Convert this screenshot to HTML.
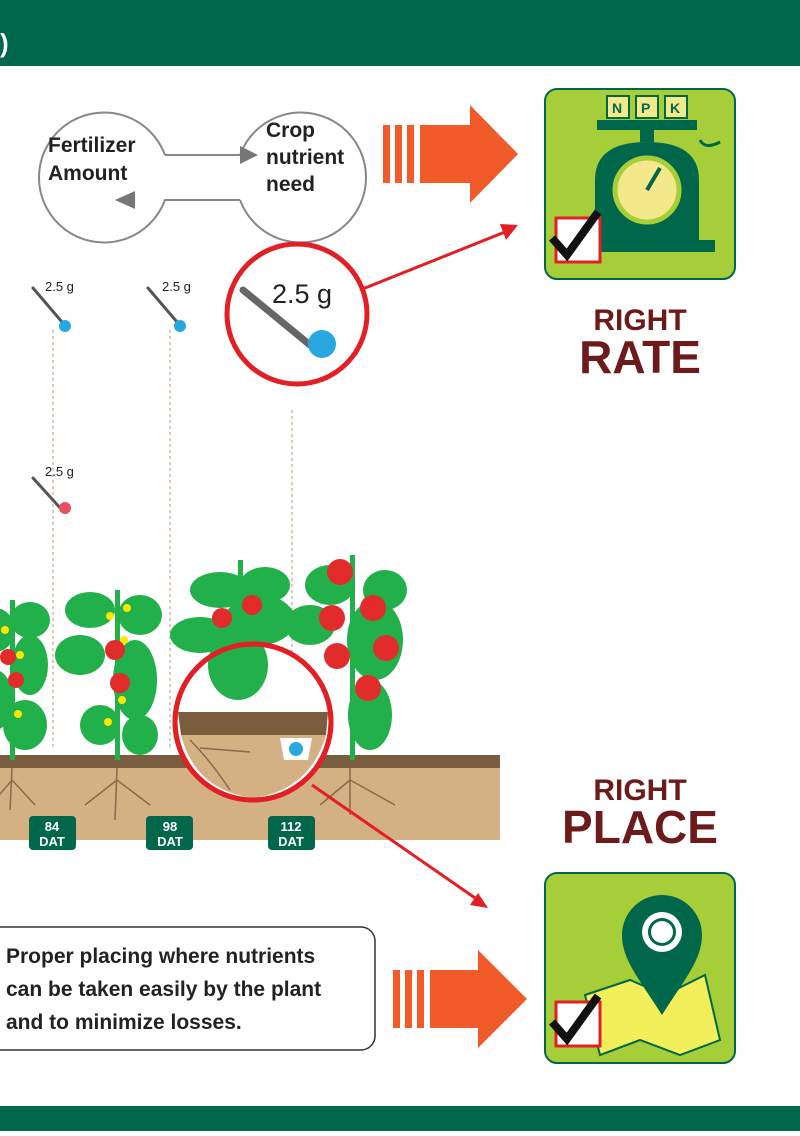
<!DOCTYPE html>
<html><head><style>
body{margin:0;width:800px;height:1131px;background:#fff;overflow:hidden;font-family:"Liberation Sans",sans-serif}
</style></head><body>
<svg width="800" height="1131" viewBox="0 0 800 1131" xmlns="http://www.w3.org/2000/svg" font-family="Liberation Sans, sans-serif">
<rect x="0" y="0" width="800" height="66" fill="#00674a"/>
<text x="0" y="52" fill="#fff" font-size="26" font-weight="bold">)</text>
<rect x="0" y="1106" width="800" height="25" fill="#00674a"/>
<!-- cycle -->
<path d="M165,155 A65,65 0 1,0 165,200 L240,200" fill="none" stroke="#888" stroke-width="2"/>
<path d="M240,155 A65,65 0 1,1 240,200" fill="none" stroke="#888" stroke-width="2"/>
<path d="M165,155 L240,155" stroke="#888" stroke-width="2"/>
<path d="M240,146 L258,155 L240,164Z" fill="#777"/>
<path d="M135,191 L115,200 L135,209Z" fill="#777"/>
<text x="48" y="152" font-size="21" font-weight="bold" fill="#222">Fertilizer</text>
<text x="48" y="180" font-size="21" font-weight="bold" fill="#222">Amount</text>
<text x="266" y="137" font-size="21" font-weight="bold" fill="#222">Crop</text>
<text x="266" y="164" font-size="21" font-weight="bold" fill="#222">nutrient</text>
<text x="266" y="191" font-size="21" font-weight="bold" fill="#222">need</text>
<!-- orange arrows -->
<g fill="#f15a29">
<rect x="383" y="125" width="7" height="58"/><rect x="395" y="125" width="7" height="58"/><rect x="407" y="125" width="7" height="58"/>
<path d="M420,125 L470,125 L470,105 L518,154 L470,203 L470,183 L420,183Z"/>
<rect x="393" y="970" width="7" height="58"/><rect x="405" y="970" width="7" height="58"/><rect x="417" y="970" width="7" height="58"/>
<path d="M430,970 L478,970 L478,950 L527,999 L478,1048 L478,1028 L430,1028Z"/>
</g>
<!-- rate icon -->
<rect x="545" y="89" width="190" height="190" rx="12" fill="#a6ce39" stroke="#00674a" stroke-width="2"/>
<rect x="607" y="96" width="22" height="22" fill="#f3e98b" stroke="#00674a" stroke-width="2"/>
<rect x="636" y="96" width="22" height="22" fill="#f3e98b" stroke="#00674a" stroke-width="2"/>
<rect x="665" y="96" width="22" height="22" fill="#f3e98b" stroke="#00674a" stroke-width="2"/>
<text x="612" y="113" font-size="14" font-weight="bold" fill="#00674a">N</text>
<text x="641" y="113" font-size="14" font-weight="bold" fill="#00674a">P</text>
<text x="670" y="113" font-size="14" font-weight="bold" fill="#00674a">K</text>
<rect x="597" y="120" width="100" height="10" fill="#00674a"/>
<rect x="640" y="130" width="14" height="12" fill="#00674a"/>
<path d="M595,245 L595,180 Q595,142 647,142 Q699,142 699,180 L699,245Z" fill="#00674a"/>
<rect x="580" y="240" width="135" height="12" fill="#00674a"/>
<circle cx="647" cy="190" r="32" fill="#f3e98b" stroke="#a6ce39" stroke-width="5"/>
<line x1="647" y1="190" x2="660" y2="168" stroke="#00674a" stroke-width="4"/>
<path d="M700,140 Q705,150 720,142" stroke="#00674a" stroke-width="3" fill="none"/>
<rect x="556" y="218" width="44" height="44" fill="#fff" stroke="#e31e24" stroke-width="3"/>
<path d="M552,238 L567,255 L598,212" stroke="#111" stroke-width="8" fill="none"/>
<text x="640" y="330" font-size="30" font-weight="bold" fill="#6d1a1a" text-anchor="middle">RIGHT</text>
<text x="640" y="373" font-size="46" font-weight="bold" fill="#6d1a1a" text-anchor="middle">RATE</text>
<text x="640" y="800" font-size="30" font-weight="bold" fill="#6d1a1a" text-anchor="middle">RIGHT</text>
<text x="640" y="843" font-size="46" font-weight="bold" fill="#6d1a1a" text-anchor="middle">PLACE</text>
<!-- place icon -->
<rect x="545" y="873" width="190" height="190" rx="12" fill="#a6ce39" stroke="#00674a" stroke-width="2"/>
<path d="M585,995 L630,980 L665,995 L705,975 L720,1040 L680,1055 L640,1040 L600,1055Z" fill="#f3ef5a" stroke="#00674a" stroke-width="2"/>
<path d="M662,1015 C640,980 622,960 622,935 A40,40 0 0,1 702,935 C702,960 684,980 662,1015Z" fill="#00674a"/>
<circle cx="662" cy="932" r="20" fill="#fff"/><circle cx="662" cy="932" r="14" fill="#00674a"/><circle cx="662" cy="932" r="11" fill="#fff"/>
<rect x="556" y="1002" width="44" height="44" fill="#fff" stroke="#e31e24" stroke-width="3"/>
<path d="M552,1022 L567,1039 L598,996" stroke="#111" stroke-width="8" fill="none"/>
<!-- dashed lines -->
<g stroke="#c8a98a" stroke-width="1.2" stroke-dasharray="3,3">
<line x1="53" y1="330" x2="53" y2="750"/><line x1="170" y1="330" x2="170" y2="750"/><line x1="292" y1="410" x2="292" y2="690"/>
</g>
<!-- spoons -->
<g stroke="#555" stroke-width="3" stroke-linecap="round">
<line x1="33" y1="288" x2="62" y2="322"/><line x1="148" y1="288" x2="177" y2="322"/><line x1="33" y1="478" x2="62" y2="510"/>
</g>
<circle cx="65" cy="326" r="6" fill="#29a8e0"/><circle cx="180" cy="326" r="6" fill="#29a8e0"/><circle cx="65" cy="508" r="6" fill="#e8505b"/>
<text x="45" y="291" font-size="13" fill="#222">2.5 g</text>
<text x="162" y="291" font-size="13" fill="#222">2.5 g</text>
<text x="45" y="476" font-size="13" fill="#222">2.5 g</text>
<circle cx="297" cy="314" r="70" fill="#fff" stroke="#e31e24" stroke-width="5"/>
<line x1="243" y1="290" x2="310" y2="345" stroke="#666" stroke-width="7" stroke-linecap="round"/>
<circle cx="322" cy="344" r="14" fill="#29a8e0"/>
<text x="272" y="303" font-size="27" fill="#222">2.5 g</text>
<line x1="360" y1="290" x2="510" y2="230" stroke="#e31e24" stroke-width="3"/>
<path d="M518,225 L500,224 L506,240Z" fill="#e31e24"/>
<!-- soil -->
<rect x="0" y="767" width="500" height="73" fill="#d4b183"/>
<rect x="0" y="755" width="500" height="13" fill="#7a5c3e"/>
<g stroke="#8a6a4a" stroke-width="1.5" fill="none">
<path d="M12,768 L10,810 M12,780 L-5,800 M12,780 L35,805"/>
<path d="M117,768 L115,820 M117,780 L85,805 M117,780 L150,805"/>
<path d="M350,768 L350,815 M350,780 L320,805 M350,780 L395,805"/>
</g>
<!-- plants -->
<g fill="#22b04a">
<rect x="10" y="600" width="5" height="160"/><rect x="115" y="590" width="5" height="170"/><rect x="238" y="560" width="5" height="200"/><rect x="350" y="555" width="5" height="205"/>
<ellipse cx="-5" cy="630" rx="20" ry="22"/><ellipse cx="30" cy="620" rx="20" ry="18"/><ellipse cx="30" cy="665" rx="18" ry="30"/><ellipse cx="25" cy="725" rx="22" ry="25"/><ellipse cx="-5" cy="700" rx="18" ry="30"/>
<ellipse cx="90" cy="610" rx="25" ry="18"/><ellipse cx="140" cy="615" rx="22" ry="20"/><ellipse cx="80" cy="655" rx="25" ry="20"/><ellipse cx="135" cy="680" rx="22" ry="40"/><ellipse cx="100" cy="725" rx="20" ry="20"/><ellipse cx="140" cy="735" rx="18" ry="20"/>
<ellipse cx="220" cy="590" rx="30" ry="18"/><ellipse cx="265" cy="585" rx="25" ry="18"/><ellipse cx="200" cy="635" rx="30" ry="18"/><ellipse cx="260" cy="620" rx="35" ry="25"/>
<ellipse cx="330" cy="585" rx="25" ry="20"/><ellipse cx="385" cy="590" rx="22" ry="20"/><ellipse cx="310" cy="625" rx="25" ry="20"/><ellipse cx="375" cy="640" rx="28" ry="40"/><ellipse cx="370" cy="715" rx="22" ry="35"/>
</g>
<g fill="#ffe600">
<circle cx="5" cy="630" r="4"/><circle cx="20" cy="655" r="4"/><circle cx="18" cy="714" r="4"/><circle cx="110" cy="616" r="4"/><circle cx="127" cy="608" r="4"/><circle cx="124" cy="640" r="4"/><circle cx="122" cy="700" r="4"/><circle cx="108" cy="722" r="4"/>
</g>
<g fill="#e22b2b">
<circle cx="8" cy="657" r="8"/><circle cx="16" cy="680" r="8"/><circle cx="115" cy="650" r="10"/><circle cx="120" cy="683" r="10"/>
<circle cx="222" cy="618" r="10"/><circle cx="252" cy="605" r="10"/><circle cx="340" cy="572" r="13"/><circle cx="373" cy="608" r="13"/><circle cx="332" cy="618" r="13"/><circle cx="337" cy="656" r="13"/><circle cx="386" cy="648" r="13"/><circle cx="368" cy="688" r="13"/>
</g>
<circle cx="253" cy="722" r="78" fill="#fff" stroke="#e31e24" stroke-width="5"/>
<path d="M178,712 L328,712 L326,735 L181,735Z" fill="#7a5c3e"/>
<path d="M181,735 L326,735 Q310,790 253,798 Q195,790 181,735Z" fill="#d4b183"/>
<path d="M190,740 Q210,760 230,790 M200,748 L250,752" stroke="#8a6a4a" stroke-width="1.5" fill="none"/>
<ellipse cx="238" cy="665" rx="30" ry="35" fill="#22b04a"/>
<path d="M280,738 L312,738 L308,760 L284,760Z" fill="#fff"/>
<circle cx="296" cy="749" r="7" fill="#29a8e0"/>
<circle cx="253" cy="722" r="78" fill="none" stroke="#e31e24" stroke-width="5"/>
<line x1="312" y1="785" x2="478" y2="900" stroke="#e31e24" stroke-width="3"/>
<path d="M488,908 L470,905 L478,893Z" fill="#e31e24"/>
<!-- DAT -->
<g fill="#00674a"><rect x="29" y="816" width="47" height="34" rx="4"/><rect x="146" y="816" width="47" height="34" rx="4"/><rect x="268" y="816" width="47" height="34" rx="4"/></g>
<g fill="#fff" font-size="13" font-weight="bold" text-anchor="middle">
<text x="52" y="831">84</text><text x="52" y="846">DAT</text>
<text x="170" y="831">98</text><text x="170" y="846">DAT</text>
<text x="291" y="831">112</text><text x="291" y="846">DAT</text>
</g>
<!-- text box -->
<rect x="-20" y="927" width="395" height="123" rx="14" fill="#fff" stroke="#333" stroke-width="1.5"/>
<text x="6" y="963" font-size="21" font-weight="bold" fill="#222">Proper placing where nutrients</text>
<text x="6" y="996" font-size="21" font-weight="bold" fill="#222">can be taken easily by the plant</text>
<text x="6" y="1029" font-size="21" font-weight="bold" fill="#222">and to minimize losses.</text>
</svg>
</body></html>
